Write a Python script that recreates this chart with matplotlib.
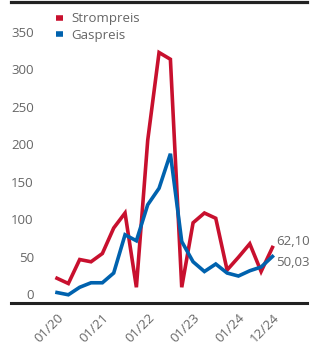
import matplotlib.pyplot as plt
from matplotlib.lines import Line2D

plt.rcParams['font.family'] = ['Open Sans', 'DejaVu Sans']

# Quartalswerte 01/2020 - 12/2024
quartale = list(range(20))
strompreis = [21, 14, 46, 43, 54, 88, 108, 9, 205, 322, 313, 9,
              95, 108, 101, 32, 49, 67, 30, 62.10]
gaspreis = [2, -1, 9, 15, 15, 28, 79, 71, 119, 141, 187, 70,
            43, 30, 40, 28, 24, 31, 36, 50.03]
tick_pos = [0, 4, 8, 12, 16, 19]
tick_labels = ["01/20", "01/21", "01/22", "01/23", "01/24", "12/24"]
end_labels = ["62,10", "50,03"]

rot = "#C8102E"
blau = "#0062AE"
grau = "#666666"

fig = plt.figure(figsize=(3.11, 3.44), dpi=100)
W, H = 311, 344
ax = fig.add_axes([40 / W, 1 - 304 / H, (311 - 40) / W, (304 - 3) / H])

ax.plot(quartale, strompreis, color=rot, lw=2.6, label="Strompreis", solid_joinstyle="miter")
ax.plot(quartale, gaspreis, color=blau, lw=2.6, label="Gaspreis", solid_joinstyle="miter")

ax.set_xlim(-1.5, 22.4)
ax.set_ylim(-13.3, 388)
ax.set_yticks([0, 50, 100, 150, 200, 250, 300, 350])
ax.set_xticks(tick_pos)
ax.set_xticklabels(tick_labels, rotation=45, ha="right", rotation_mode="anchor")
ax.tick_params(axis="both", length=0, colors=grau, labelsize=9.5)
ax.tick_params(axis="y", pad=4.5)
ax.tick_params(axis="x", pad=5)
for s in ax.spines.values():
    s.set_visible(False)

ax.annotate(end_labels[0], (quartale[-1], strompreis[-1]), xytext=(2.5, 4),
            textcoords="offset points", color=grau, fontsize=9.5, va="center",
            annotation_clip=False)
ax.annotate(end_labels[1], (quartale[-1], gaspreis[-1]), xytext=(2.5, -4),
            textcoords="offset points", color=grau, fontsize=9.5, va="center",
            annotation_clip=False)

leg = ax.legend(loc="upper left", bbox_to_anchor=(7 / 271, 1.0), frameon=False,
                handlelength=0.55, handletextpad=0.6, labelspacing=0.25,
                fontsize=9.5, borderaxespad=0.3)
for h in leg.legend_handles:
    h.set_linewidth(4)
    h.set_solid_capstyle("butt")
for t in leg.get_texts():
    t.set_color(grau)

# Linien oben und unten
fig.add_artist(Line2D([11 / W, 307 / W], [1 - 1.5 / H, 1 - 1.5 / H], color="#222222", lw=2.3,
                      transform=fig.transFigure))
fig.add_artist(Line2D([11 / W, 307 / W], [1 - 303 / H, 1 - 303 / H], color="#222222", lw=2.2,
                      transform=fig.transFigure))

fig.savefig("out.png", dpi=100)
